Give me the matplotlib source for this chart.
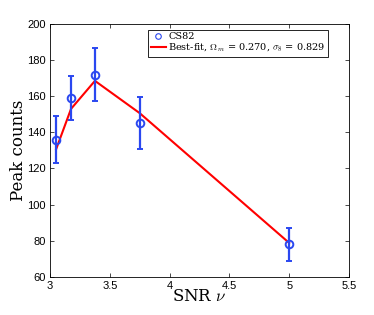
import matplotlib
matplotlib.use("Agg")
import matplotlib.pyplot as plt
from matplotlib.lines import Line2D
import numpy as np

# data
snr = np.array([3.05, 3.175, 3.375, 3.75, 5.0])
peak_counts = np.array([136, 159, 172, 145, 78])
peak_err = np.array([13, 12, 14.7, 14.3, 9.2])
best_fit = np.array([130.6, 153, 168.5, 150.6, 78.8])

plt.rcParams["mathtext.fontset"] = "cm"
plt.rcParams["font.family"] = ["Liberation Sans", "DejaVu Sans"]

fig = plt.figure(figsize=(3.74, 3.15), dpi=100)
ax = fig.add_axes([0.134, 0.121, 0.799, 0.803])

blue = "#2a47f0"
ax.errorbar(snr, peak_counts, yerr=peak_err, fmt="o", mfc="none", mec=blue,
            ecolor=blue, markersize=5.5, mew=1.4, elinewidth=1.6, capsize=2.5,
            capthick=1.4, zorder=3)
fit_line, = ax.plot(snr, best_fit, color="red", linewidth=1.5, zorder=2)

ax.set_xlim(3, 5.5)
ax.set_ylim(60, 200)
ax.set_xticks(np.arange(3, 5.51, 0.5))
ax.set_xticklabels(["3", "3.5", "4", "4.5", "5", "5.5"])
ax.set_yticks(np.arange(60, 201, 20))
ax.tick_params(direction="in", top=True, right=True, labelsize=8, length=3,
               width=0.5, pad=3)
for s in ax.spines.values():
    s.set_linewidth(0.6)

ax.set_xlabel(r"SNR $\nu$", fontsize=12, family="DejaVu Serif", labelpad=-2)
ax.set_ylabel("Peak counts", fontsize=12, family="DejaVu Serif", labelpad=0)

cs82 = Line2D([], [], marker="o", linestyle="none", mfc="none", mec=blue,
              markersize=4, mew=0.8)
leg = ax.legend([cs82, fit_line],
                ["CS82", r"Best-fit, $\Omega_m$ = 0.270, $\sigma_8$ = 0.829"],
                loc="upper right", bbox_to_anchor=(0.935, 0.985),
                prop={"family": "DejaVu Serif", "size": 7},
                fancybox=False, framealpha=1, borderpad=0.25, handlelength=1.6,
                handletextpad=0.2, labelspacing=0.1, borderaxespad=0.2)
leg.get_frame().set_edgecolor("black")
leg.get_frame().set_linewidth(0.6)

fig.savefig("out.png", dpi=100)
